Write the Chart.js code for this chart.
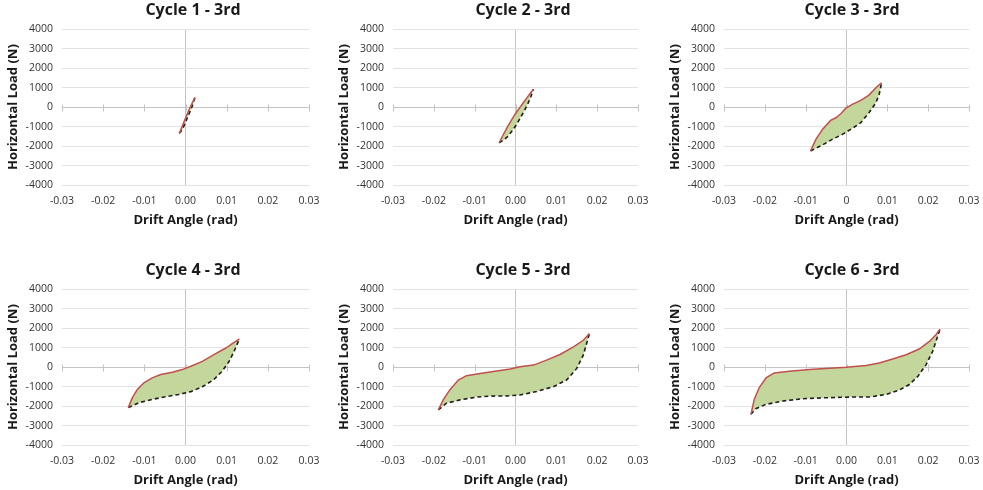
<!DOCTYPE html>
<html>
<head>
<meta charset="utf-8">
<script src="https://cdn.jsdelivr.net/npm/chart.js@4.4.1/dist/chart.umd.min.js"></script>
<style>
html,body{margin:0;padding:0;background:#fff;overflow:hidden;}
#wrap{position:relative;width:983px;height:490px;overflow:hidden;background:#fff;}
canvas{position:absolute;}
</style>
</head>
<body>
<div id="wrap">
<canvas id="c1"></canvas><canvas id="c2"></canvas><canvas id="c3"></canvas>
<canvas id="c4"></canvas><canvas id="c5"></canvas><canvas id="c6"></canvas>
</div>
<script>
// ---------------- DATA ----------------
const chartTitles = ['Cycle 1 - 3rd','Cycle 2 - 3rd','Cycle 3 - 3rd','Cycle 4 - 3rd','Cycle 5 - 3rd','Cycle 6 - 3rd'];
const xAxisTitle = 'Drift Angle (rad)';
const yAxisTitle = 'Horizontal Load (N)';
const xTickLabels = ['-0.03','-0.02','-0.01','0.00','0.01','0.02','0.03'];
const xTickLabelsCycle3 = ['-0.03','-0.02','-0.01','0','0.01','0.02','0.03'];
const yTickLabels = ['-4000','-3000','-2000','-1000','0','1000','2000','3000','4000'];

// Cycle 1
const c1UpperAngle = [-0.0015,-0.0007,0,0.0008,0.0016,0.0023];
const c1UpperLoad  = [-1350,-930,-560,-160,200,500];
const c1LowerAngle = [-0.0015,-0.0007,0,0.0008,0.0016,0.0023];
const c1LowerLoad  = [-1350,-1120,-780,-380,30,500];
// Cycle 2
const c2UpperAngle = [-0.0040,-0.0030,-0.0020,-0.0010,0,0.0010,0.0020,0.0030,0.0038,0.0044];
const c2UpperLoad  = [-1830,-1420,-1030,-670,-340,-40,250,540,760,920];
const c2LowerAngle = [-0.0040,-0.0030,-0.0020,-0.0010,0,0.0010,0.0020,0.0030,0.0038,0.0044];
const c2LowerLoad  = [-1830,-1700,-1530,-1270,-970,-620,-250,160,560,920];
// Cycle 3
const c3UpperAngle = [-0.0088,-0.0075,-0.0059,-0.0039,-0.0026,-0.0014,-0.0002,0.0014,0.0035,0.0055,0.0072,0.0080,0.0086];
const c3UpperLoad  = [-2250,-1660,-1145,-684,-547,-342,-68,137,342,615,991,1150,1246];
const c3LowerAngle = [-0.0088,-0.0059,-0.0035,-0.0010,0.0014,0.0035,0.0055,0.0072,0.0080,0.0086];
const c3LowerLoad  = [-2250,-1949,-1658,-1401,-1094,-803,-291,222,650,1246];
// Cycle 4
const c4UpperAngle = [-0.0139,-0.0129,-0.0117,-0.0101,-0.0081,-0.0060,-0.0032,-0.0008,0.0013,0.0041,0.0069,0.0098,0.0118,0.0131];
const c4UpperLoad  = [-2080,-1571,-1148,-806,-551,-383,-265,-128,41,296,638,980,1265,1450];
const c4LowerAngle = [-0.0139,-0.0113,-0.0081,-0.0048,-0.0016,0.0013,0.0041,0.0069,0.0089,0.0106,0.0118,0.0131];
const c4LowerLoad  = [-2080,-1827,-1658,-1520,-1403,-1260,-1010,-638,-214,296,806,1450];
// Cycle 5
const c5UpperAngle = [-0.0189,-0.0177,-0.0161,-0.0140,-0.0120,-0.0087,-0.0046,-0.0013,0.0011,0.0044,0.0076,0.0109,0.0142,0.0166,0.0181];
const c5UpperLoad  = [-2194,-1684,-1173,-663,-442,-323,-204,-102,17,102,357,646,1037,1378,1719];
const c5LowerAngle = [-0.0189,-0.0169,-0.0136,-0.0095,-0.0063,-0.0022,0.0011,0.0052,0.0093,0.0125,0.0150,0.0166,0.0181];
const c5LowerLoad  = [-2194,-1854,-1684,-1540,-1490,-1480,-1430,-1250,-1003,-663,-68,612,1719];
// Cycle 6
const c6UpperAngle = [-0.0234,-0.0226,-0.0214,-0.0197,-0.0177,-0.0140,-0.0091,-0.0042,-0.0001,0.0048,0.0080,0.0113,0.0146,0.0178,0.0203,0.0219,0.0229];
const c6UpperLoad  = [-2423,-1658,-1063,-553,-298,-213,-128,-60,-8,77,213,417,638,927,1318,1658,1949];
const c6LowerAngle = [-0.0234,-0.0222,-0.0197,-0.0156,-0.0107,-0.0050,0.0007,0.0056,0.0097,0.0129,0.0154,0.0175,0.0195,0.0211,0.0229];
const c6LowerLoad  = [-2423,-2134,-1913,-1743,-1624,-1573,-1539,-1539,-1403,-1182,-893,-468,128,808,1949];

// ---------------- STYLE / LAYOUT ----------------
const FONT = "'Open Sans', 'Liberation Sans', sans-serif";
const RED = '#c0504d';
const DASH = '#1e1e1e';
const GREEN = '#c3d69b';
const GRID = '#e3e3e3';
const AXIS = '#c4c4c4';
const TICK = '#333333';
const TITLE = '#1a1a1a';

const panels = [
  {id:'c1', left:0,   top:0,   width:386, rightW:77, title:chartTitles[0], xl:xTickLabels,       ux:c1UpperAngle, uy:c1UpperLoad, lx:c1LowerAngle, ly:c1LowerLoad},
  {id:'c2', left:331, top:0,   width:384, rightW:77, title:chartTitles[1], xl:xTickLabels,       ux:c2UpperAngle, uy:c2UpperLoad, lx:c2LowerAngle, ly:c2LowerLoad},
  {id:'c3', left:662, top:0,   width:380, rightW:73, title:chartTitles[2], xl:xTickLabelsCycle3, ux:c3UpperAngle, uy:c3UpperLoad, lx:c3LowerAngle, ly:c3LowerLoad},
  {id:'c4', left:0,   top:260, width:386, rightW:77, title:chartTitles[3], xl:xTickLabels,       ux:c4UpperAngle, uy:c4UpperLoad, lx:c4LowerAngle, ly:c4LowerLoad},
  {id:'c5', left:331, top:260, width:384, rightW:77, title:chartTitles[4], xl:xTickLabels,       ux:c5UpperAngle, uy:c5UpperLoad, lx:c5LowerAngle, ly:c5LowerLoad},
  {id:'c6', left:662, top:260, width:380, rightW:73, title:chartTitles[5], xl:xTickLabels,       ux:c6UpperAngle, uy:c6UpperLoad, lx:c6LowerAngle, ly:c6LowerLoad}
];
const CANVAS_H = 235;

const pts = (xs, ys) => xs.map((x, i) => ({x: x, y: ys[i]}));

// small cross tick marks on the zero (category) axis, like Excel
const crossTicks = {
  id: 'crossTicks',
  beforeDatasetsDraw(chart) {
    const xs = chart.scales.x, ys = chart.scales.y, ctx = chart.ctx;
    const y0 = Math.round(ys.getPixelForValue(0)) + 0.5;
    ctx.save();
    ctx.strokeStyle = AXIS;
    ctx.lineWidth = 1;
    xs.ticks.forEach(t => {
      const px = Math.round(xs.getPixelForValue(t.value)) + 0.5;
      ctx.beginPath();
      ctx.moveTo(px, y0 - 3);
      ctx.lineTo(px, y0 + 4);
      ctx.stroke();
    });
    ctx.restore();
  }
};

function build() {
  panels.forEach(p => {
    const cv = document.getElementById(p.id);
    cv.width = p.width; cv.height = CANVAS_H;
    cv.style.left = p.left + 'px'; cv.style.top = p.top + 'px';
    cv.style.width = p.width + 'px'; cv.style.height = CANVAS_H + 'px';
    const upper = pts(p.ux, p.uy);
    const lower = pts(p.lx, p.ly);
    const loop = upper.concat(lower.slice().reverse());
    new Chart(cv, {
      type: 'scatter',
      data: {
        datasets: [
          {label:'Loading', data: upper, showLine:true, borderColor:RED, borderWidth:1.5, pointRadius:0, fill:false, tension:0, yAxisID:'y', xAxisID:'x'},
          {label:'Unloading', data: lower, showLine:true, borderColor:DASH, borderWidth:1.6, borderDash:[4,3], pointRadius:0, fill:false, tension:0, yAxisID:'y', xAxisID:'x'},
          {label:'Loop', data: loop, showLine:true, borderColor:'rgba(0,0,0,0)', borderWidth:0, backgroundColor:GREEN, fill:'shape', pointRadius:0, tension:0, yAxisID:'y', xAxisID:'x'}
        ]
      },
      options: {
        responsive:false, animation:false, devicePixelRatio:1,
        layout:{padding:0},
        events: [],
        plugins:{
          legend:{display:false}, tooltip:{enabled:false},
          title:{display:true, text:p.title, color:TITLE, font:{family:FONT, size:16, weight:'bold', lineHeight:1.2}, padding:{top:1, bottom:9}}
        },
        scales:{
          x:{
            type:'linear', position:'bottom', min:-0.03, max:0.03,
            ticks:{stepSize:0.01, padding:10, color:TICK, font:{family:FONT, size:10.5}, maxRotation:0, autoSkip:false,
                   callback:(v, i) => p.xl[i]},
            grid:{drawTicks:false, lineWidth:1, color:c => (c.tick && Math.abs(c.tick.value) < 1e-9) ? AXIS : 'rgba(0,0,0,0)'},
            border:{display:false},
            title:{display:true, text:xAxisTitle, color:TITLE, font:{family:FONT, size:13, weight:'bold', lineHeight:1.2}, padding:{top:0, bottom:7}},
            afterFit:s => { s.height = 50; }
          },
          y:{
            type:'linear', position:'left', min:-4000, max:4000,
            ticks:{stepSize:1000, padding:9, color:TICK, font:{family:FONT, size:10.5},
                   callback:(v, i) => yTickLabels[i]},
            grid:{drawTicks:false, lineWidth:1, color:c => (c.tick && c.tick.value === 0) ? AXIS : GRID},
            border:{display:false},
            title:{display:true, text:yAxisTitle, color:TITLE, font:{family:FONT, size:13, weight:'bold', lineHeight:1.2}, padding:{top:5, bottom:0}},
            afterFit:s => { s.width = 62; }
          },
          yR:{
            type:'linear', position:'right', display:true,
            ticks:{display:false}, grid:{display:false, drawTicks:false}, border:{display:false},
            afterFit:s => { s.width = p.rightW; }
          }
        }
      },
      plugins:[crossTicks]
    });
  });
}

const fontLoads = [
  document.fonts.load("bold 16px 'Open Sans'"),
  document.fonts.load("10px 'Open Sans'")
];
Promise.all(fontLoads).then(build, build);
</script>
</body>
</html>
